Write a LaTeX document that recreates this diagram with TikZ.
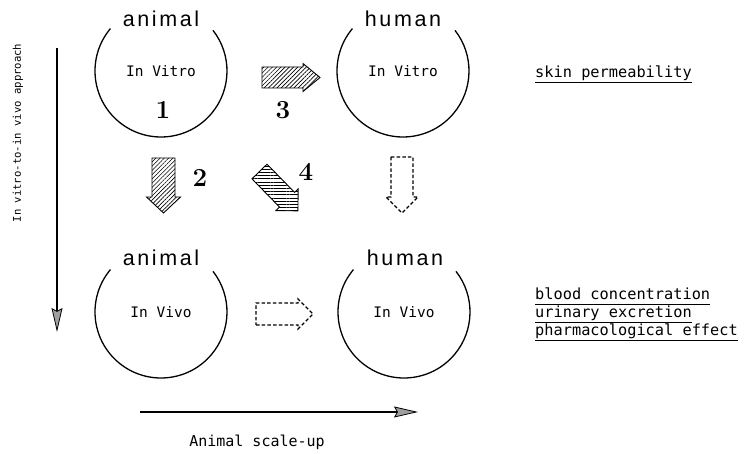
\documentclass[tikz,border=0pt]{standalone}
\usepackage{fontspec}
\usetikzlibrary{arrows.meta,patterns.meta}
\newfontfamily\monof{DejaVu Sans Mono}
\newfontfamily\labelf{Liberation Sans}[LetterSpace=12]

% block arrow along +x: #1 style, #2 length, #3 shaft half width,
% #4 head length, #5 head half width
\newcommand{\blockarrowpath}[5]{%
  \path[#1] (0,-#3) -- ({#2-#4},-#3) -- ({#2-#4},-#5) -- (#2,0)
    -- ({#2-#4},#5) -- ({#2-#4},#3) -- (0,#3) -- cycle;}

\begin{document}
\begin{tikzpicture}[x=1pt,y=1pt,
  ring/.style={circle,minimum size=132pt,inner sep=0pt,outer sep=0pt},
  ringline/.style={line width=1.3pt},
  who/.style={font=\labelf\fontsize{21.5}{24}\selectfont,anchor=base,inner sep=0pt},
  inside/.style={font=\monof\fontsize{14.5}{17}\selectfont,inner sep=0pt},
  num/.style={font=\bfseries\fontsize{26}{30}\selectfont,inner sep=0pt},
  hatchdiag/.style={draw,line width=0.9pt,pattern={Lines[angle=45,distance=3pt,line width=0.6pt]}},
  hatchflat/.style={draw,line width=0.9pt,pattern={Lines[angle=0,distance=3.2pt,line width=0.6pt]}},
  dashbox/.style={draw,line width=1.2pt,dash pattern=on 3.5pt off 2.2pt},
  axis/.style={line width=1.5pt,-{Stealth[length=24pt,width=11pt,inset=3pt,line width=0.8pt,fill=gray!75]}},
  axislabel/.style={font=\monof\fontsize{15}{18}\selectfont,inner sep=0pt},
  measure/.style={font=\monof\fontsize{15.3}{18}\selectfont,anchor=base west,inner sep=0pt},
  uline/.style={line width=0.9pt}
]
\useasboundingbox (0,0) rectangle (744,454);

% the four systems
\node[ring] (avitro) at (161,383) {};
\node[ring] (hvitro) at (403,383) {};
\node[ring] (avivo)  at (161,142) {};
\node[ring] (hvivo)  at (404,142) {};
\foreach \c in {avitro,hvitro,avivo,hvivo}
  \draw[ringline] (\c.140) arc[start angle=140,end angle=398,radius=66pt];

\node[who] (lab1) at (161,427) {animal};
\node[who] (lab2) at (403,427) {human};
\node[who] (lab3) at (161,188) {animal};
\node[who] (lab4) at (405,188) {human};

\node[inside] (t1) at (avitro.center) {In Vitro};
\node[inside] (t2) at (hvitro.center) {In Vitro};
\node[inside] (t3) at (avivo.center) {In Vivo};
\node[inside] (t4) at (hvivo.center) {In Vivo};

% numbered transfers
\node[num] (n1) at (163,344) {1};
\node[num] (n3) at (283,344) {3};
\node[num] (n2) at (200,276) {2};
\node[num] (n4) at (306,282) {4};

\begin{scope}[shift={(262,376.5)}]
  \blockarrowpath{hatchdiag}{58}{10.5}{17}{14}
\end{scope}
\begin{scope}[shift={(163.5,296)},rotate=-90]
  \blockarrowpath{hatchdiag}{55}{11.5}{16}{17}
\end{scope}
\begin{scope}[shift={(259.5,282.5)},rotate=-45.7]
  \blockarrowpath{hatchflat}{55}{10.5}{15.6}{15.6}
\end{scope}
\begin{scope}[shift={(402,297)},rotate=-90]
  \blockarrowpath{dashbox}{56}{11}{16}{16}
\end{scope}
\begin{scope}[shift={(256,140)}]
  \blockarrowpath{dashbox}{57}{11}{15}{15}
\end{scope}

% axes
\coordinate (vtop) at (57,406);
\coordinate (vbot) at (57,122);
\draw[axis] (vtop) -- (vbot);
\node[axislabel,font=\monof\fontsize{10.6}{12}\selectfont,rotate=90] (vlab) at (18,321) {In vitro-to-in vivo approach};

\coordinate (hleft) at (140,42);
\coordinate (hright) at (418,42);
\draw[axis] (hleft) -- (hright);
\node[axislabel,anchor=base] (hlab) at (257,7) {Animal scale-up};

% measured quantities
\node[measure] (m1) at (535,376) {skin permeability};
\node[measure] (m2) at (535,154) {blood concentration};
\node[measure] (m3) at (535,136) {urinary excretion};
\node[measure] (m4) at (535,118) {pharmacological effect};
\foreach \m in {m1,m2,m3,m4}
  \draw[uline] ([yshift=-4pt]\m.base west) -- ([yshift=-4pt]\m.base east);

\end{tikzpicture}
\end{document}
